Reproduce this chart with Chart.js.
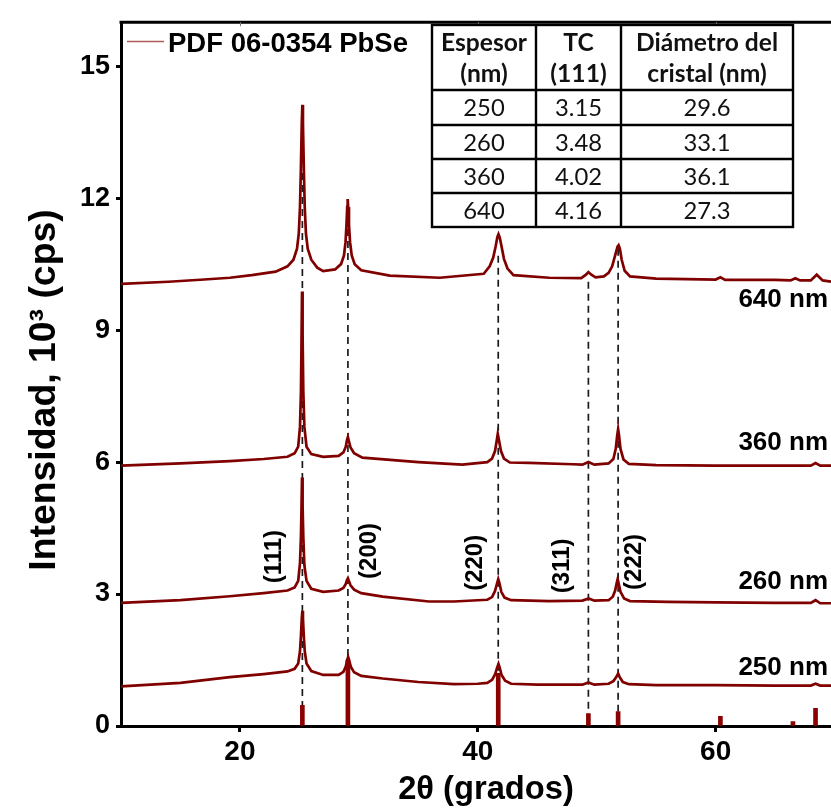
<!DOCTYPE html>
<html><head><meta charset="utf-8">
<script src="https://cdn.jsdelivr.net/npm/chart.js@4.4.0/dist/chart.umd.min.js"></script>
<style>html,body{margin:0;padding:0;background:#fff;overflow:hidden}</style>
</head><body>
<canvas id="c" width="831" height="808" style="display:block"></canvas>
<script>
// ---------------- data ----------------
const xTickValues = [20, 40, 60];
const yTickValues = [0, 3, 6, 9, 12, 15];

const t250x = [10,15,19.15,22,24,24.6,24.9,25.05,25.13,25.2,25.25,25.3,25.37,25.45,25.6,26,27,28.3,28.7,28.9,29.02,29.1,29.18,29.32,29.6,30.2,32,35,38,40,40.8,41.2,41.45,41.62,41.74,41.85,42,42.3,42.8,45,48.8,49.3,49.8,51,51.4,51.62,51.8,51.95,52.2,52.7,55,60,65,68,68.4,68.8,69.7];
const t250y = [0.9,0.98,1.11,1.18,1.24,1.3,1.42,1.7,2.05,2.45,2.62,2.45,2.05,1.7,1.42,1.25,1.16,1.16,1.23,1.35,1.5,1.57,1.5,1.35,1.22,1.14,1.08,1.0,0.95,0.96,0.98,1.05,1.17,1.32,1.41,1.32,1.16,1.03,0.96,0.94,0.94,0.99,0.94,0.96,1.02,1.1,1.19,1.1,1.0,0.95,0.93,0.93,0.92,0.92,0.96,0.92,0.92];

const t260x = [10,15,19.15,22,24,24.6,24.9,25.05,25.13,25.18,25.22,25.27,25.33,25.42,25.6,26,27,28.3,28.7,28.9,29,29.08,29.16,29.3,29.6,30.2,32,35.9,38,40.8,41.2,41.45,41.6,41.72,41.82,41.98,42.25,42.8,46,48.8,49.33,49.8,51,51.35,51.55,51.68,51.76,51.86,52,52.3,52.8,56,60,65,68,68.4,68.8,69.7];
const t260y = [2.8,2.86,2.95,3.02,3.08,3.15,3.3,3.7,4.3,5.0,5.65,5.0,4.3,3.65,3.3,3.12,3.05,3.08,3.14,3.23,3.32,3.36,3.3,3.2,3.1,3.02,2.94,2.83,2.83,2.87,2.93,3.07,3.22,3.34,3.25,3.05,2.92,2.86,2.84,2.85,2.9,2.85,2.86,2.94,3.08,3.25,3.34,3.22,3.05,2.9,2.84,2.82,2.81,2.8,2.8,2.86,2.79,2.79];

const t360x = [10,15,19.15,22,24,24.6,24.9,25.05,25.13,25.18,25.22,25.27,25.33,25.42,25.6,26,27,28.3,28.7,28.9,29,29.08,29.16,29.3,29.6,30.3,35,38.7,40.8,41.2,41.45,41.6,41.68,41.78,41.95,42.2,42.7,44.3,48,48.8,49.3,49.8,51,51.4,51.6,51.72,51.8,51.88,52,52.25,52.7,55,60,65,68,68.4,68.8,69.7];
const t360y = [5.92,5.97,6.02,6.07,6.12,6.2,6.35,6.8,7.6,8.8,9.88,8.9,7.6,6.8,6.35,6.18,6.12,6.14,6.22,6.35,6.5,6.57,6.48,6.33,6.2,6.1,6.0,5.94,6.0,6.08,6.25,6.5,6.64,6.5,6.25,6.08,5.99,5.98,5.95,5.94,6.0,5.94,5.97,6.07,6.3,6.6,6.75,6.6,6.3,6.06,5.96,5.93,5.92,5.92,5.92,5.98,5.92,5.92];

const t640x = [10,14,17,19.15,21,23,24,24.5,24.8,24.95,25.05,25.12,25.2,25.25,25.3,25.38,25.45,25.55,25.7,26,26.5,27,28,28.5,28.75,28.88,28.96,29.02,29.06,29.1,29.17,29.26,29.4,29.65,30.2,32.6,36.8,40.5,41,41.3,41.5,41.65,41.74,41.85,42,42.2,42.5,43,46,48.7,49.1,49.3,49.55,49.9,50.6,51,51.3,51.55,51.75,51.84,51.95,52.1,52.35,52.8,55,60,60.4,60.8,65,66.3,66.7,67.1,68,68.5,69,69.7];
const t640y = [10.05,10.1,10.15,10.19,10.25,10.33,10.45,10.6,10.85,11.2,11.8,12.6,13.7,14.12,13.7,12.6,11.8,11.2,10.85,10.6,10.42,10.34,10.38,10.5,10.7,11.0,11.4,11.8,11.98,11.8,11.4,11.0,10.7,10.5,10.36,10.24,10.19,10.28,10.45,10.65,10.9,11.12,11.18,11.1,10.9,10.62,10.4,10.25,10.19,10.18,10.26,10.32,10.26,10.2,10.22,10.3,10.45,10.7,10.9,10.93,10.85,10.6,10.35,10.22,10.17,10.15,10.2,10.14,10.14,10.13,10.18,10.13,10.13,10.26,10.13,10.1];

const stickX = [25.25, 29.08, 41.72, 49.3, 51.8, 60.4, 66.5, 68.4];
const stickY = [0.47, 1.5, 1.2, 0.28, 0.33, 0.22, 0.1, 0.4];

const dashX = [25.25, 29.08, 41.72, 49.3, 51.8];
const dashTop = [12.57, 11.3, 10.69, 10.1, 10.85];
const dashBottom = [0.47, 1.5, 1.2, 0.28, 0.33];

const hklText = ['(111)', '(200)', '(220)', '(311)', '(222)'];
const hklX = [22.93, 30.9, 39.8, 47.1, 53.2];
const hklY = [3.85, 3.98, 3.71, 3.64, 3.73];

const seriesNames = ['250 nm', '260 nm', '360 nm', '640 nm'];
const seriesLabelY = [1.33, 3.28, 6.43, 9.69];

const legendText = 'PDF 06-0354 PbSe';

const tableHead = [['Espesor', '(nm)'], ['TC', '(111)'], ['Diámetro del', 'cristal (nm)']];
const tableEspesor = ['250', '260', '360', '640'];
const tableTC = ['3.15', '3.48', '4.02', '4.16'];
const tableDiam = ['29.6', '33.1', '36.1', '27.3'];

// ---------------- helpers ----------------
const RED = '#800000';
const pts = (xs, ys) => xs.map((v, i) => ({x: v, y: ys[i]}));
const mc = document.createElement('canvas').getContext('2d');
function tw(font, t) { mc.font = font; return mc.measureText(t).width; }
const narrowAvail = Math.abs(tw('bold 40px "Liberation Sans Narrow", monospace', 'Intensidad (cps)') - tw('bold 40px monospace', 'Intensidad (cps)')) > 0.5;
const titleFam = narrowAvail ? '"Liberation Sans Narrow", "Liberation Sans", Arial, sans-serif' : '"Liberation Sans", Arial, sans-serif';
const fit = (fam, weight, text, target) => 40 * target / tw(weight + ' 40px ' + fam, text);
const yTitleText = 'Intensidad, 10\u00B3 (cps)';
const xTitleText = '2\u03B8 (grados)';
const yTitleSize = fit(titleFam, 'bold', yTitleText, 362);
const xTitleSize = fit(titleFam, 'bold', xTitleText, 176);
const legendSize = fit(titleFam, 'bold', legendText, 240);
const tabFam = 'Lato, "Open Sans", sans-serif';
const tabHeadSize = fit(tabFam, 'bold', 'Diámetro del', 142);
const tabBodySize = fit(tabFam, 'normal', '29.6', 47);

const traceDs = (label, xs, ys) => ({
  type: 'line', label, data: pts(xs, ys), borderColor: RED, borderWidth: 2.7,
  pointRadius: 0, tension: 0, fill: false, order: 2
});

const datasets = [
  traceDs('250 nm', t250x, t250y),
  traceDs('260 nm', t260x, t260y),
  traceDs('360 nm', t360x, t360y),
  traceDs('640 nm', t640x, t640y),
  {type: 'bar', label: legendText, data: pts(stickX, stickY), backgroundColor: '#8b0000',
   barThickness: 4, grouped: false, order: 1}
];
dashX.forEach((v, i) => datasets.push({
  type: 'line', label: 'dash' + i, data: [{x: v, y: dashTop[i]}, {x: v, y: dashBottom[i]}],
  borderColor: '#1a1a1a', borderWidth: 1.7, borderDash: [7, 5], pointRadius: 0, order: 3
}));

const overlay = {
  id: 'overlay',
  afterDraw(chart) {
    const {ctx, chartArea: a, scales: {x, y}} = chart;
    ctx.save();
    // top frame line
    ctx.strokeStyle = '#000'; ctx.lineWidth = 3;
    ctx.beginPath(); ctx.moveTo(a.left - 1.5, a.top); ctx.lineTo(a.right, a.top); ctx.stroke();
    ctx.strokeStyle = '#777'; ctx.lineWidth = 1;
    xTickValues.forEach(v => { const p = Math.round(x.getPixelForValue(v)) + 0.5;
      ctx.beginPath(); ctx.moveTo(p, a.top); ctx.lineTo(p, a.top + 4); ctx.stroke(); });

    // axis titles
    ctx.fillStyle = '#000'; ctx.textAlign = 'center'; ctx.textBaseline = 'middle';
    ctx.font = 'bold ' + xTitleSize.toFixed(1) + 'px ' + titleFam;
    ctx.fillText(xTitleText, 486, 790);
    ctx.save(); ctx.translate(45, 390); ctx.rotate(-Math.PI / 2);
    ctx.font = 'bold ' + yTitleSize.toFixed(1) + 'px ' + titleFam;
    ctx.fillText(yTitleText, 0, 0); ctx.restore();

    // hkl labels
    ctx.font = 'bold 24px "Liberation Sans", Arial, sans-serif';
    hklText.forEach((t, i) => {
      ctx.save(); ctx.translate(x.getPixelForValue(hklX[i]), y.getPixelForValue(hklY[i]));
      ctx.rotate(-Math.PI / 2); ctx.fillText(t, 0, 0); ctx.restore();
    });

    // series labels
    ctx.font = 'bold 26px "Liberation Sans", Arial, sans-serif';
    ctx.textAlign = 'right';
    seriesNames.forEach((t, i) => ctx.fillText(t, 828, y.getPixelForValue(seriesLabelY[i])));

    // legend
    ctx.strokeStyle = '#b25a5a'; ctx.lineWidth = 1.6;
    ctx.beginPath(); ctx.moveTo(127, 41.5); ctx.lineTo(164, 41.5); ctx.stroke();
    ctx.textAlign = 'left';
    ctx.font = 'bold ' + legendSize.toFixed(1) + 'px ' + titleFam;
    ctx.fillText(legendText, 168, 44);

    // table
    const L = 432, R = 793, T = 25, B = 227;
    const cols = [L, 536, 621, R];
    const rows = [T, 90, 125, 159, 193, B];
    ctx.fillStyle = '#fff'; ctx.fillRect(L, T, R - L, B - T);
    ctx.strokeStyle = '#000'; ctx.lineWidth = 2.4;
    ctx.strokeRect(L, T, R - L, B - T);
    ctx.beginPath();
    cols.slice(1, 3).forEach(c => { ctx.moveTo(c, T); ctx.lineTo(c, B); });
    rows.slice(1, 5).forEach(r => { ctx.moveTo(L, r); ctx.lineTo(R, r); });
    ctx.stroke();
    ctx.fillStyle = '#111'; ctx.textAlign = 'center'; ctx.textBaseline = 'middle';
    ctx.font = 'bold ' + tabHeadSize.toFixed(1) + 'px ' + tabFam;
    tableHead.forEach((h, j) => {
      const cx = (cols[j] + cols[j + 1]) / 2;
      ctx.fillText(h[0], cx, 43); ctx.fillText(h[1], cx, 74);
    });
    ctx.font = tabBodySize.toFixed(1) + 'px ' + tabFam;
    const body = [tableEspesor, tableTC, tableDiam];
    for (let r = 0; r < 4; r++) {
      const cy = (rows[r + 1] + rows[r + 2]) / 2 + 1;
      body.forEach((col, j) => ctx.fillText(col[r], (cols[j] + cols[j + 1]) / 2, cy));
    }
    ctx.restore();
  }
};

new Chart(document.getElementById('c'), {
  type: 'line',
  data: {datasets},
  options: {
    responsive: false, animation: false, devicePixelRatio: 1,
    layout: {padding: {top: 14.5, right: 0, left: 0, bottom: 0}},
    plugins: {legend: {display: false}, tooltip: {enabled: false}},
    scales: {
      x: {
        type: 'linear', min: 10, max: 69.7, offset: false,
        afterBuildTicks: s => { s.ticks = xTickValues.map(v => ({value: v})); },
        afterFit: s => { s.height = 82; },
        grid: {offset: false, drawOnChartArea: false, drawTicks: true, tickLength: 6, tickWidth: 3, tickColor: '#000'},
        border: {display: true, color: '#000', width: 3},
        ticks: {color: '#000', padding: 3, maxRotation: 0,
                font: {family: '"Liberation Sans", Arial, sans-serif', weight: 'bold', size: 28}}
      },
      y: {
        type: 'linear', min: 0, max: 16,
        afterBuildTicks: s => { s.ticks = yTickValues.map(v => ({value: v})); },
        afterFit: s => { s.width = 121; },
        grid: {drawOnChartArea: false, drawTicks: true, tickLength: 5, tickWidth: 3, tickColor: '#000'},
        border: {display: true, color: '#000', width: 3},
        ticks: {color: '#000', padding: 6,
                font: {family: '"Liberation Sans", Arial, sans-serif', weight: 'bold', size: 27}}
      }
    }
  },
  plugins: [overlay]
});
</script>
</body></html>
